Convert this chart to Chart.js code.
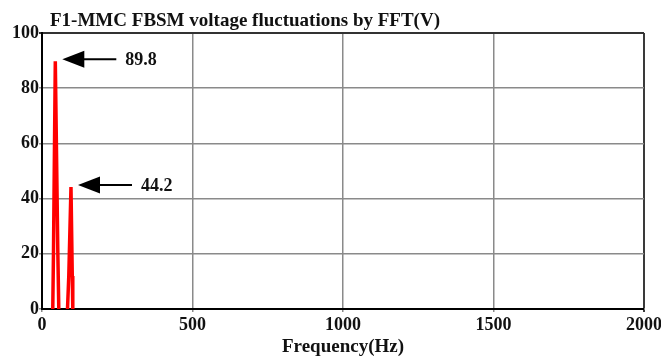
<!DOCTYPE html>
<html>
<head>
<meta charset="utf-8">
<title>F1-MMC FBSM voltage fluctuations by FFT</title>
<script src="https://cdn.jsdelivr.net/npm/chart.js@4/dist/chart.umd.min.js"></script>
<style>
  html, body { margin: 0; padding: 0; background: #fff; }
  #wrap { width: 661px; height: 359px; position: relative; }
</style>
</head>
<body>
<div id="wrap"><canvas id="fft" width="661" height="359"></canvas></div>
<script>
// FFT spectrum of the FBSM capacitor voltage ripple (null splits the two harmonic spikes)
const freqHz     = [35.8, 38.2, 44.2, 52.5, 55.8, 70, 84.7, 89, 96.3, 100.6, 102.3];
const amplitudeV = [0,    21,   89.8, 21,   0,    null, 0,  12, 44.2, 12,    0];

// Harmonic peaks that get an arrow and a value label
const peakFreqHz = [44.2, 96.3];
const peakValueV = [89.8, 44.2];
const peakLabels = ['89.8', '44.2'];

// Axis ticks
const xTicks = [0, 500, 1000, 1500, 2000];
const yTicks = [0, 20, 40, 60, 80, 100];

const titleText = 'F1-MMC FBSM voltage fluctuations by FFT(V)';
const xTitleText = 'Frequency(Hz)';

const serif = '"Liberation Serif", "Times New Roman", serif';

const points = freqHz.map((f, i) => ({ x: f, y: amplitudeV[i] }));

// Title and peak arrows drawn on top of the plot
const annotate = {
  id: 'annotate',
  afterDraw(chart) {
    const { ctx, scales } = chart;
    ctx.save();
    ctx.fillStyle = '#111';
    ctx.font = 'bold 19px ' + serif;
    ctx.textAlign = 'left';
    ctx.textBaseline = 'alphabetic';
    ctx.fillText(titleText, 50, 26);

    peakFreqHz.forEach((f, i) => {
      const tipX = scales.x.getPixelForValue(f) + 7;
      const tipY = scales.y.getPixelForValue(peakValueV[i]) - 2;
      ctx.fillStyle = '#000';
      ctx.strokeStyle = '#000';
      // arrow head
      ctx.beginPath();
      ctx.moveTo(tipX, tipY);
      ctx.lineTo(tipX + 22, tipY - 8.5);
      ctx.lineTo(tipX + 22, tipY + 8.5);
      ctx.closePath();
      ctx.fill();
      // shaft
      ctx.lineWidth = 2;
      ctx.beginPath();
      ctx.moveTo(tipX + 18, tipY);
      ctx.lineTo(tipX + 54, tipY);
      ctx.stroke();
      // value
      ctx.fillStyle = '#111';
      ctx.font = 'bold 18px ' + serif;
      ctx.textBaseline = 'middle';
      ctx.fillText(peakLabels[i], tipX + 63, tipY + 1);
    });
    ctx.restore();
  }
};

new Chart(document.getElementById('fft'), {
  type: 'line',
  data: {
    datasets: [{
      data: points,
      borderColor: '#ff0000',
      borderWidth: 3.5,
      pointRadius: 0,
      tension: 0,
      spanGaps: false,
      fill: false
    }]
  },
  options: {
    responsive: false,
    animation: false,
    devicePixelRatio: 1,
    layout: { autoPadding: false, padding: { left: 0, right: 17, top: 33, bottom: 0 } },
    plugins: { legend: { display: false }, tooltip: { enabled: false }, title: { display: false } },
    scales: {
      x: {
        type: 'linear',
        min: xTicks[0],
        max: xTicks[xTicks.length - 1],
        afterBuildTicks(scale) { scale.ticks = xTicks.map(v => ({ value: v })); },
        afterFit(scale) {
          scale.height = 50;
          scale.paddingLeft = 0;
          scale.paddingRight = 0;
        },
        ticks: {
          color: '#111',
          font: { family: serif, size: 18, weight: 'bold' },
          padding: 3,
          maxRotation: 0,
          autoSkip: false,
          callback: v => String(v)
        },
        grid: {
          color: c => (c.tick && c.tick.value === 2000) ? '#3a3a3a' : '#8a8a8a',
          lineWidth: c => (c.tick && c.tick.value === 2000) ? 2 : 1.5,
          tickLength: 3,
          drawTicks: true
        },
        border: { color: '#000', width: 2 },
        title: {
          display: true,
          text: xTitleText,
          color: '#111',
          font: { family: serif, size: 19, weight: 'bold' },
          padding: { top: 0, bottom: 1 }
        }
      },
      y: {
        type: 'linear',
        min: yTicks[0],
        max: yTicks[yTicks.length - 1],
        afterBuildTicks(scale) { scale.ticks = yTicks.map(v => ({ value: v })); },
        afterFit(scale) {
          scale.width = 42;
          scale.paddingTop = 0;
          scale.paddingBottom = 0;
        },
        ticks: {
          color: '#111',
          font: { family: serif, size: 18, weight: 'bold' },
          padding: 0,
          callback: v => String(v)
        },
        grid: {
          color: c => (c.tick && c.tick.value === 100) ? '#333' : '#8a8a8a',
          lineWidth: c => (c.tick && c.tick.value === 100) ? 2 : 1.5,
          tickLength: 3
        },
        border: { color: '#000', width: 2 }
      }
    }
  },
  plugins: [annotate]
});
</script>
</body>
</html>
